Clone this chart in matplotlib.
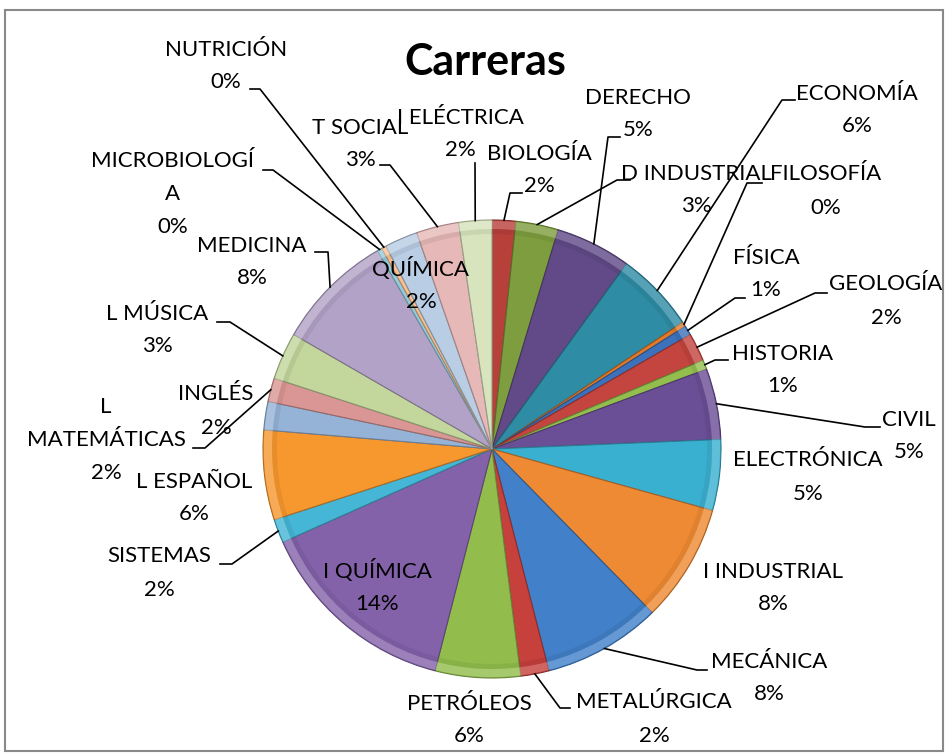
import numpy as np
import matplotlib.pyplot as plt
import matplotlib.colors as mcolors
from matplotlib.patches import Wedge, Rectangle

W, H = 948, 755

# datos (conteo de estudiantes por carrera, total 300)
carreras = ["BIOLOGÍA", "D INDUSTRIAL", "DERECHO", "ECONOMÍA", "FILOSOFÍA", "FÍSICA",
            "GEOLOGÍA", "HISTORIA", "CIVIL", "ELECTRÓNICA", "I INDUSTRIAL", "MECÁNICA",
            "METALÚRGICA", "PETRÓLEOS", "I QUÍMICA", "SISTEMAS", "L ESPAÑOL", "INGLÉS",
            "L MATEMÁTICAS", "L MÚSICA", "MEDICINA", "MICROBIOLOGÍA", "NUTRICIÓN",
            "QUÍMICA", "T SOCIAL", "I ELÉCTRICA"]
estudiantes = [5, 9, 16, 17, 1, 2, 6, 2, 15, 15, 25, 25, 6, 18, 43, 5, 19, 6, 5, 10,
               25, 1, 1, 7, 9, 7]
titulo = "Carreras"

# estilo
colores = ["#B8403B", "#7E9D3E", "#614A87", "#2F8CA5", "#E07A2A", "#3C72BC",
           "#C4443F", "#93BE4E", "#6B4F96", "#3AB0D0", "#EE8A33", "#4281C9",
           "#C6403C", "#92BD4D", "#8462AA", "#45B6D6", "#F7982F", "#95B3D7",
           "#D99694", "#C3D69B", "#B3A2C7", "#93CDDD", "#FAC090", "#B9CDE5",
           "#E6B9B8", "#D7E4BD"]

# texto partido como en la imagen
texto_label = {"MICROBIOLOGÍA": ["MICROBIOLOGÍ", "A"], "L MATEMÁTICAS": ["L", "MATEMÁTICAS"]}

# posicion de etiquetas (pixeles, y hacia abajo)
pos_label = {
    "BIOLOGÍA": (539, 170), "D INDUSTRIAL": (696, 190), "DERECHO": (638, 114),
    "ECONOMÍA": (857, 110), "FILOSOFÍA": (826, 191), "FÍSICA": (766, 274),
    "GEOLOGÍA": (886, 301), "HISTORIA": (783, 370), "CIVIL": (909, 436),
    "ELECTRÓNICA": (808, 477), "I INDUSTRIAL": (773, 588), "MECÁNICA": (769, 678),
    "METALÚRGICA": (654, 719), "PETRÓLEOS": (469, 720), "I QUÍMICA": (377, 587),
    "SISTEMAS": (159, 573), "L ESPAÑOL": (194, 498), "L MATEMÁTICAS": (106, 440),
    "INGLÉS": (216, 411), "L MÚSICA": (157, 330), "MEDICINA": (252, 262),
    "MICROBIOLOGÍA": (173, 194), "NUTRICIÓN": (226, 66), "QUÍMICA": (421, 285),
    "T SOCIAL": (360, 144), "I ELÉCTRICA": (460, 134),
}
# lineas guia: codo y final del tramo horizontal
guias = {
    "BIOLOGÍA": ((510, 193), (522, 193)), "D INDUSTRIAL": ((617, 180), (630, 180)),
    "DERECHO": ((608, 137), (620, 137)), "ECONOMÍA": ((782, 100), (795, 100)),
    "FILOSOFÍA": ((747, 183), (762, 183)), "FÍSICA": ((735, 298), (745, 298)),
    "GEOLOGÍA": ((815, 293), (827, 293)), "HISTORIA": ((715, 360), (728, 360)),
    "CIVIL": ((865, 427), (880, 427)), "MECÁNICA": ((697, 670), (707, 670)),
    "METALÚRGICA": ((560, 708), (570, 708)), "SISTEMAS": ((232, 564), (220, 564)),
    "L MATEMÁTICAS": ((205, 448), (193, 448)), "L MÚSICA": ((230, 322), (217, 322)),
    "MEDICINA": ((328, 252), (315, 252)), "MICROBIOLOGÍA": ((273, 170), (263, 170)),
    "NUTRICIÓN": ((260, 89), (250, 89)), "T SOCIAL": ((390, 165), (380, 165)),
    "I ELÉCTRICA": ((475, 163), (475, 163)),
}

cx, cy, R = 492, 449, 229
paso = 33  # separacion entre lineas de una etiqueta
fuente = ["Lato", "DejaVu Sans"]


def tono(c, f):
    rgb = np.array(mcolors.to_rgb(c))
    if f < 0:
        return tuple(rgb * (1 + f))
    return tuple(rgb + (1 - rgb) * f)


fig = plt.figure(figsize=(W / 100, H / 100), dpi=100)
ax = fig.add_axes([0, 0, 1, 1])

wedges, _ = ax.pie(estudiantes, colors=colores, startangle=-90, counterclock=True,
                   center=(cx, cy), radius=R, wedgeprops=dict(linewidth=0.8))
ax.set_xlim(0, W)
ax.set_ylim(H, 0)
ax.axis("off")

# efecto bisel sencillo
for w, c in zip(wedges, colores):
    w.set_edgecolor(tono(c, -0.3))
    ax.add_patch(Wedge((cx, cy), R - 1, w.theta1, w.theta2, width=8,
                       facecolor=tono(c, 0.35), alpha=0.55, linewidth=0))
    ax.add_patch(Wedge((cx, cy), R - 9, w.theta1, w.theta2, width=5,
                       facecolor=tono(c, -0.25), alpha=0.25, linewidth=0))

total = sum(estudiantes)
for w, nombre, n in zip(wedges, carreras, estudiantes):
    lineas = texto_label.get(nombre, [nombre]) + [f"{round(100 * n / total)}%"]
    x, y = pos_label[nombre]
    k = len(lineas)
    for i, s in enumerate(lineas):
        ax.text(x, y + (i - (k - 1) / 2) * paso, s, ha="center", va="center",
                fontsize=16, family=fuente)
    if nombre in guias:
        ang = np.deg2rad((w.theta1 + w.theta2) / 2)
        rx, ry = cx + R * np.cos(ang), cy + R * np.sin(ang)
        (ex, ey), (tx, ty) = guias[nombre]
        ax.plot([rx, ex, tx], [ry, ey, ty], color="black", lw=1.2)

ax.text(485, 62, titulo, ha="center", va="center", fontsize=31, fontweight="bold",
        family=fuente)

ax.add_patch(Rectangle((5, 10), 938, 741, fill=False, edgecolor="#898989", lw=1.5))

fig.savefig("out.png", dpi=100)
